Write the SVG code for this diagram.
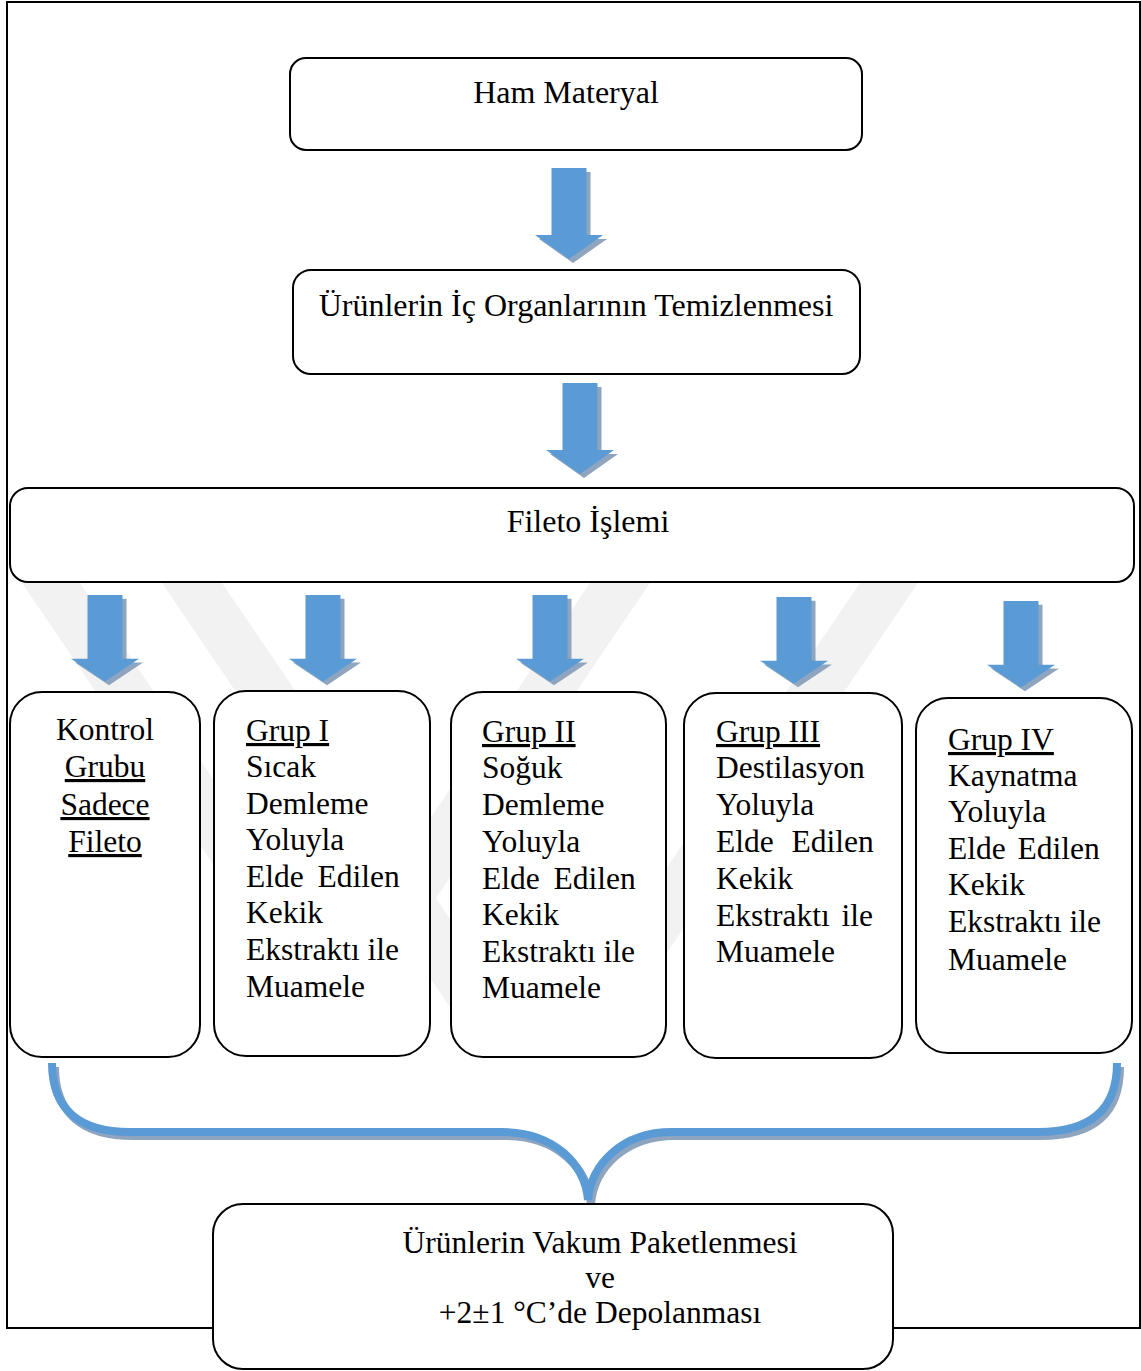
<svg xmlns="http://www.w3.org/2000/svg" width="1141" height="1371" viewBox="0 0 1141 1371">
<style>
.box{fill:#fff;stroke:#000;stroke-width:2}
.t{font-family:"Liberation Serif","Times New Roman",serif;font-size:31.5px;fill:#000}
.c{text-anchor:middle}
.u{text-decoration:underline}
.arr{fill:#5B9BD5}
.sh{fill:#8FA5BF}
.wm{fill:#F2F2F2}
</style>
<defs>
<polygon id="arrow" points="-17.5,0 17.5,0 17.5,67 34,67 0,91 -34,67 -17.5,67"/>
</defs>
<rect id="frame" x="7" y="2" width="1133" height="1326" fill="#fff" stroke="#000" stroke-width="2"/>
<g id="watermark">
<polygon class="wm" points="22,583 80,583 370,1010 312,1010"/>
<polygon class="wm" points="162,583 222,583 512,1010 452,1010"/>
<polygon class="wm" points="590,583 650,583 360,1010 300,1010"/>
<polygon class="wm" points="860,583 918,583 628,1010 570,1010"/>
</g>
<g id="connectors">
<g transform="translate(569,168)"><use href="#arrow" class="sh" x="4" y="4"/><use href="#arrow" class="arr"/></g>
<g transform="translate(580,383)"><use href="#arrow" class="sh" x="4" y="4"/><use href="#arrow" class="arr"/></g>
<g transform="translate(105,595) scale(1,0.95)"><use href="#arrow" class="sh" x="4" y="4"/><use href="#arrow" class="arr"/></g>
<g transform="translate(323,595) scale(1,0.95)"><use href="#arrow" class="sh" x="4" y="4"/><use href="#arrow" class="arr"/></g>
<g transform="translate(550,595) scale(1,0.95)"><use href="#arrow" class="sh" x="4" y="4"/><use href="#arrow" class="arr"/></g>
<g transform="translate(794,597) scale(1,0.95)"><use href="#arrow" class="sh" x="4" y="4"/><use href="#arrow" class="arr"/></g>
<g transform="translate(1021,601) scale(1,0.95)"><use href="#arrow" class="sh" x="4" y="4"/><use href="#arrow" class="arr"/></g>
<path d="M 52 1063 C 52 1110 80 1132 130 1132 L 502 1132 C 555 1132 585 1165 588 1200 C 591 1165 621 1132 672 1132 L 1038 1132 C 1090 1132 1117 1110 1117 1063" fill="none" stroke="#8FA5BF" stroke-width="8" transform="translate(3,4)"/>
<path d="M 52 1063 C 52 1110 80 1132 130 1132 L 502 1132 C 555 1132 585 1165 588 1200 C 591 1165 621 1132 672 1132 L 1038 1132 C 1090 1132 1117 1110 1117 1063" fill="none" stroke="#5B9BD5" stroke-width="8"/>
</g>
<g id="n-ham">
<rect class="box" x="290" y="58" width="572" height="92" rx="16"/>
<text class="t c" x="566" y="103" style="font-size:32px">Ham Materyal</text>
</g>
<g id="n-temizleme">
<rect class="box" x="293" y="270" width="567" height="104" rx="18"/>
<text class="t c" x="576" y="316" style="font-size:32px">Ürünlerin İç Organlarının Temizlenmesi</text>
</g>
<g id="n-fileto">
<rect class="box" x="10" y="488" width="1124" height="94" rx="18"/>
<text class="t c" x="588" y="532" style="font-size:32px">Fileto İşlemi</text>
</g>
<g id="n-kontrol">
<rect class="box" x="10" y="692" width="190" height="365" rx="32"/>
<text class="t c" x="105" y="740">Kontrol</text>
<text class="t c u" x="105" y="777">Grubu</text>
<text class="t c u" x="105" y="815">Sadece</text>
<text class="t c u" x="105" y="852">Fileto</text>
</g>
<g id="n-grup1">
<rect class="box" x="214" y="691" width="216" height="365" rx="32"/>
<text class="t" x="246"><tspan class="u" y="741">Grup I</tspan><tspan x="246" y="777">Sıcak</tspan><tspan x="246" y="814">Demleme</tspan><tspan x="246" y="850">Yoluyla</tspan><tspan x="246" y="887" word-spacing="6">Elde Edilen</tspan><tspan x="246" y="923">Kekik</tspan><tspan x="246" y="960">Ekstraktı ile</tspan><tspan x="246" y="997">Muamele</tspan></text>
</g>
<g id="n-grup2">
<rect class="box" x="451" y="692" width="215" height="365" rx="32"/>
<text class="t" x="482"><tspan class="u" y="742">Grup II</tspan><tspan x="482" y="778">Soğuk</tspan><tspan x="482" y="815">Demleme</tspan><tspan x="482" y="852">Yoluyla</tspan><tspan x="482" y="889" word-spacing="6">Elde Edilen</tspan><tspan x="482" y="925">Kekik</tspan><tspan x="482" y="962">Ekstraktı ile</tspan><tspan x="482" y="998">Muamele</tspan></text>
</g>
<g id="n-grup3">
<rect class="box" x="684" y="693" width="218" height="365" rx="32"/>
<text class="t" x="716"><tspan class="u" y="742">Grup III</tspan><tspan x="716" y="778">Destilasyon</tspan><tspan x="716" y="815">Yoluyla</tspan><tspan x="716" y="852" word-spacing="10">Elde Edilen</tspan><tspan x="716" y="889">Kekik</tspan><tspan x="716" y="926" word-spacing="4">Ekstraktı ile</tspan><tspan x="716" y="962">Muamele</tspan></text>
</g>
<g id="n-grup4">
<rect class="box" x="916" y="698" width="216" height="355" rx="32"/>
<text class="t" x="948"><tspan class="u" y="750">Grup IV</tspan><tspan x="948" y="786">Kaynatma</tspan><tspan x="948" y="822">Yoluyla</tspan><tspan x="948" y="859" word-spacing="4">Elde Edilen</tspan><tspan x="948" y="895">Kekik</tspan><tspan x="948" y="932">Ekstraktı ile</tspan><tspan x="948" y="970">Muamele</tspan></text>
</g>
<g id="n-vakum">
<rect class="box" x="213" y="1204" width="680" height="165" rx="30"/>
<text class="t c" x="600" y="1253">Ürünlerin Vakum Paketlenmesi</text>
<text class="t c" x="600" y="1288">ve</text>
<text class="t c" x="600" y="1323">+2±1 °C’de Depolanması</text>
</g>
</svg>
